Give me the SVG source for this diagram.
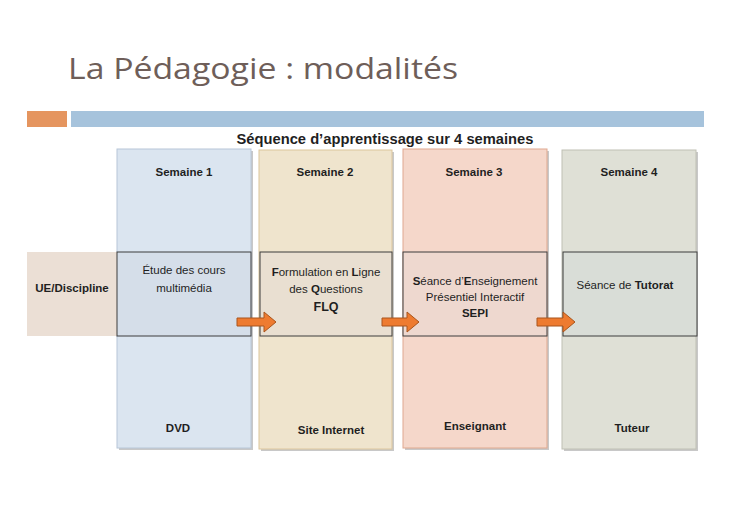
<svg xmlns="http://www.w3.org/2000/svg" width="731" height="517" viewBox="0 0 731 517">
<defs>
<style>
.t{font-family:"Liberation Sans","DejaVu Sans",sans-serif;fill:#1f1f1f;text-anchor:middle}
.b{font-weight:bold}
.s{font-size:11.5px}
.col{stroke-width:1}
.band{stroke:#3c3c3c;stroke-width:1}
.arrow{fill:#ee7b30;stroke:#a9551c;stroke-width:1}
.shadow{fill:#9a9a9a;opacity:0.55}
</style>
</defs>
<rect width="731" height="517" fill="#ffffff"/>
<g id="title">
<text x="68" y="79" font-family="'Open Sans','Liberation Sans',sans-serif" font-size="30" fill="#6e5e59" textLength="390" lengthAdjust="spacingAndGlyphs">La Pédagogie : modalités</text>
</g>
<g id="header-bars">
<rect x="27" y="111" width="40" height="16" fill="#e5955f"/>
<rect x="71" y="111" width="633" height="16" fill="#a6c3dc"/>
</g>
<g id="subtitle">
<text x="385" y="144" class="t b" font-size="15" textLength="297" lengthAdjust="spacingAndGlyphs">Séquence d’apprentissage sur 4 semaines</text>
</g>
<g id="week1">
<rect x="119" y="151" width="134" height="299" class="shadow"/>
<rect x="117" y="149" width="134" height="299" fill="#dbe5f0" stroke="#b7c6d8" class="col"/>
<text x="184" y="176" class="t b s">Semaine 1</text>
</g>
<g id="week2">
<rect x="261" y="152" width="133" height="299" class="shadow"/>
<rect x="259" y="150" width="133" height="299" fill="#efe4cd" stroke="#dcc69c" class="col"/>
<text x="325" y="176" class="t b s">Semaine 2</text>
</g>
<g id="week3">
<rect x="405" y="151" width="144" height="299" class="shadow"/>
<rect x="403" y="149" width="144" height="299" fill="#f5d7ca" stroke="#dfa88f" class="col"/>
<text x="474" y="176" class="t b s">Semaine 3</text>
</g>
<g id="week4">
<rect x="564" y="152" width="134" height="299" class="shadow"/>
<rect x="562" y="150" width="134" height="299" fill="#dfe0d6" stroke="#bfc0b4" class="col"/>
<text x="629" y="176" class="t b s">Semaine 4</text>
</g>
<g id="ue-discipline">
<rect x="27" y="252" width="90" height="84" fill="#ebdfd5"/>
<text x="72" y="292" class="t b s">UE/Discipline</text>
</g>
<g id="etude">
<rect x="117" y="252" width="134" height="84" fill="#d5dee9" class="band"/>
<text x="184" y="274" class="t s">Étude des cours</text>
<text x="184" y="292" class="t s">multimédia</text>
</g>
<g id="flq">
<rect x="260" y="252" width="132" height="84" fill="#e9dfd1" class="band"/>
<text x="326" y="276" class="t s"><tspan class="b">F</tspan>ormulation en <tspan class="b">L</tspan>igne</text>
<text x="326" y="293" class="t s">des <tspan class="b">Q</tspan>uestions</text>
<text x="326" y="311" class="t b" font-size="12.5">FLQ</text>
</g>
<g id="sepi">
<rect x="403" y="252" width="144" height="84" fill="#eed8cf" class="band"/>
<text x="475" y="285" class="t s"><tspan class="b">S</tspan>éance d’<tspan class="b">E</tspan>nseignement</text>
<text x="475" y="301" class="t s">Présentiel  Interactif</text>
<text x="475" y="317" class="t b s">SEPI</text>
</g>
<g id="tutorat">
<rect x="563" y="252" width="134" height="84" fill="#d9ddd7" class="band"/>
<text x="625" y="289" class="t s">Séance de <tspan class="b">Tutorat</tspan></text>
</g>
<g id="supports">
<text x="178" y="432" class="t b s">DVD</text>
<text x="331" y="434" class="t b s">Site Internet</text>
<text x="475" y="430" class="t b s">Enseignant</text>
<text x="632" y="432" class="t b s">Tuteur</text>
</g>
<g id="connectors">
<polygon class="arrow" points="237,318 264,318 264,312 276,322 264,332 264,326 237,326"/>
<polygon class="arrow" points="382,318 407,318 407,312 419,322 407,332 407,326 382,326"/>
<polygon class="arrow" points="537,318 563,318 563,312 575,322 563,332 563,326 537,326"/>
</g>
</svg>
